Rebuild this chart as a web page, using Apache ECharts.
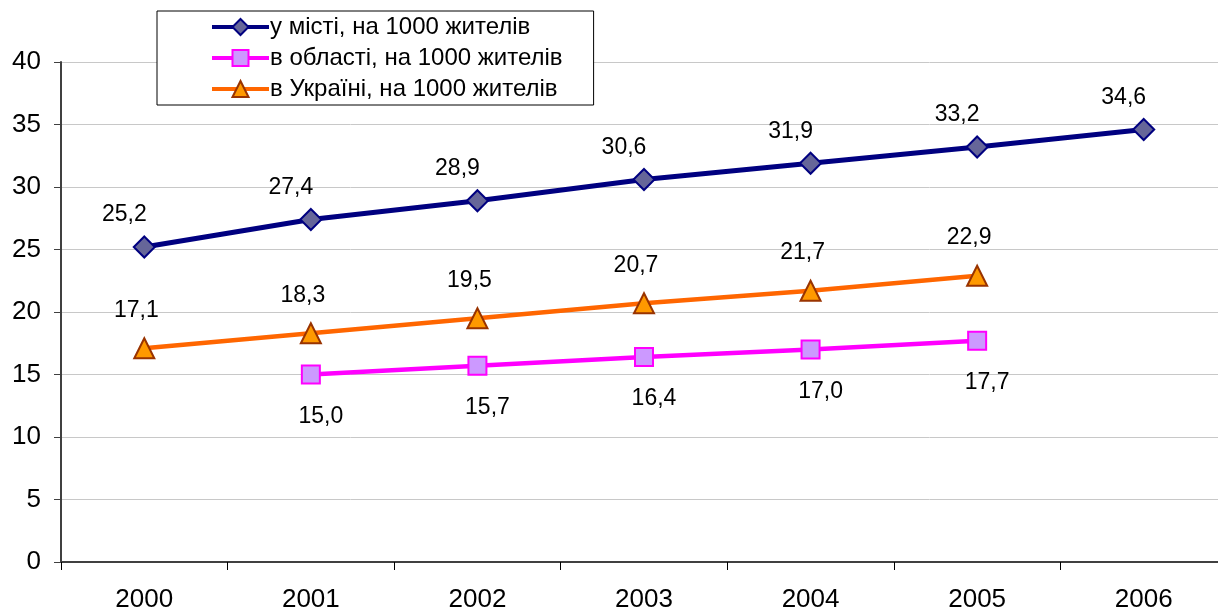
<!DOCTYPE html>
<html>
<head>
<meta charset="utf-8">
<script src="https://cdn.jsdelivr.net/npm/echarts@6/dist/echarts.min.js"></script>
<style>
  html, body { margin: 0; padding: 0; background: #fff; }
  #chart { width: 1218px; height: 612px; }
</style>
</head>
<body>
<div id="chart"></div>
<script>
const years = ['2000', '2001', '2002', '2003', '2004', '2005', '2006']
const cityValues = [25.2, 27.4, 28.9, 30.6, 31.9, 33.2, 34.6]
const regionValues = ['-', 15.0, 15.7, 16.4, 17.0, 17.7, '-']
const ukraineValues = [17.1, 18.3, 19.5, 20.7, 21.7, 22.9, '-']
const seriesNames = [
  'у місті, на 1000 жителів',
  'в області, на 1000 жителів',
  'в Україні, на 1000 жителів'
]

const font = 'Liberation Sans, Arial, sans-serif'
// decimal comma like the original
const fmt = (p) => p.value.toFixed(1).replace('.', ',')

function label (offset) {
  return {
    show: true,
    position: 'inside',
    offset: offset,
    formatter: fmt,
    color: '#000',
    fontSize: 23,
    fontFamily: font
  }
}

const chart = echarts.init(document.getElementById('chart'))
const option = {
  animation: false,
  legend: {
    orient: 'vertical',
    left: 157,
    top: 11,
    padding: [4, 31, 4, 53],
    itemWidth: 57,
    itemHeight: 20,
    itemGap: 7,
    borderColor: '#000',
    borderWidth: 1,
    backgroundColor: '#fff',
    lineStyle: { width: 4 },
    textStyle: { fontSize: 24, fontFamily: font, color: '#000', lineHeight: 24, padding: [0, 0, 0, -4] },
    data: seriesNames
  },
  // plot area runs past the right edge of the picture, as in the original
  grid: { left: 61, top: 62, bottom: 50, width: 1166, outerBoundsMode: 'none' },
  xAxis: {
    type: 'category',
    data: years,
    boundaryGap: true,
    axisLine: { lineStyle: { color: '#404040', width: 2 } },
    axisTick: { show: true, length: 8, lineStyle: { color: '#000', width: 1 } },
    axisLabel: { fontSize: 26, fontFamily: font, color: '#000', margin: 25 }
  },
  yAxis: {
    type: 'value',
    min: 0,
    max: 40,
    interval: 5,
    axisLine: { show: true, lineStyle: { color: '#404040', width: 2 } },
    axisTick: { show: true, length: 7, lineStyle: { color: '#404040' } },
    axisLabel: { fontSize: 26, fontFamily: font, color: '#000', margin: 20 },
    splitLine: { lineStyle: { color: '#c8c8c8', width: 1 } }
  },
  series: [
    {
      name: seriesNames[0],
      type: 'line',
      data: cityValues,
      symbol: 'diamond',
      symbolSize: 21,
      lineStyle: { color: '#000080', width: 5 },
      itemStyle: { color: '#666699', borderColor: '#000080', borderWidth: 2 },
      label: label([-20, -32]),
      z: 3
    },
    {
      name: seriesNames[1],
      type: 'line',
      data: regionValues,
      symbol: 'rect',
      symbolSize: 18,
      lineStyle: { color: '#ff00ff', width: 4.5 },
      itemStyle: { color: '#cc99ff', borderColor: '#ff00ff', borderWidth: 2 },
      label: label([10, 42]),
      z: 2
    },
    {
      name: seriesNames[2],
      type: 'line',
      data: ukraineValues,
      symbol: 'triangle',
      symbolSize: 20,
      lineStyle: { color: '#ff6600', width: 4.5 },
      itemStyle: { color: '#ff9900', borderColor: '#993300', borderWidth: 2 },
      label: label([-8, -38]),
      z: 2
    }
  ]
}
chart.setOption(option)
</script>
</body>
</html>
